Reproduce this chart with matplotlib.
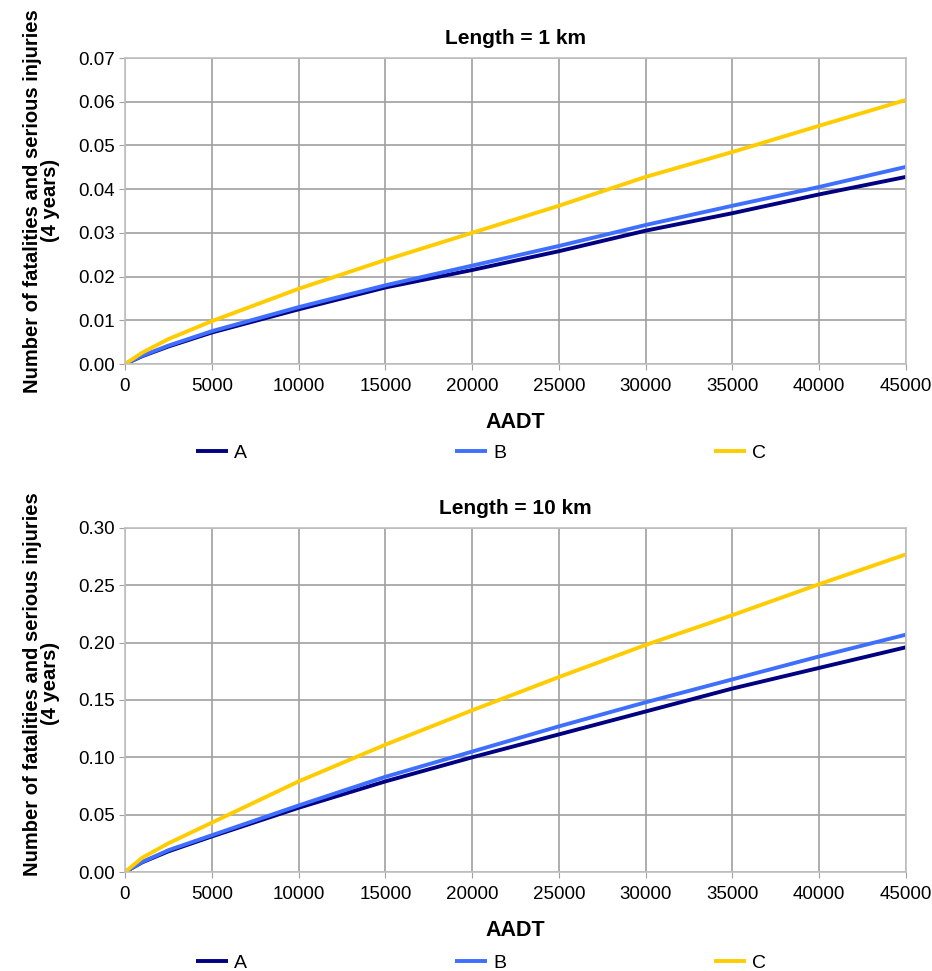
import matplotlib
matplotlib.use('Agg')
import matplotlib.pyplot as plt

plt.rcParams['font.family'] = ['Liberation Sans', 'DejaVu Sans']

aadt = [0, 1000, 2500, 5000, 10000, 15000, 20000, 25000, 30000, 35000, 40000, 45000]

# Length = 1 km
a_1km = [0, 0.0018, 0.0040, 0.0072, 0.0125, 0.0175, 0.0215, 0.0258, 0.0305, 0.0345, 0.0388, 0.0428]
b_1km = [0, 0.0019, 0.0042, 0.0075, 0.0130, 0.0180, 0.0225, 0.0270, 0.0318, 0.0362, 0.0405, 0.0451]
c_1km = [0, 0.0026, 0.0057, 0.0098, 0.0172, 0.0238, 0.0300, 0.0362, 0.0428, 0.0485, 0.0545, 0.0604]

# Length = 10 km
a_10km = [0, 0.0085, 0.018, 0.031, 0.056, 0.079, 0.100, 0.120, 0.140, 0.160, 0.178, 0.196]
b_10km = [0, 0.0088, 0.019, 0.032, 0.058, 0.083, 0.105, 0.127, 0.148, 0.168, 0.188, 0.207]
c_10km = [0, 0.0125, 0.025, 0.043, 0.079, 0.111, 0.141, 0.170, 0.198, 0.224, 0.251, 0.277]

series_names = ['A', 'B', 'C']
colors = ['#000080', '#3f6fff', '#ffcc00']

fig = plt.figure(figsize=(9.32, 9.71), dpi=100)
ax1 = fig.add_axes([125/932, 1 - 364/971, 781/932, 306/971])
ax2 = fig.add_axes([125/932, 1 - 872/971, 781/932, 344/971])

panels = [
    (ax1, [a_1km, b_1km, c_1km], 'Length = 1 km', 0.07, 0.01, 453, 0.533),
    (ax2, [a_10km, b_10km, c_10km], 'Length = 10 km', 0.30, 0.05, 963, 0.547),
]

for ax, data, title, ymax, ystep, leg_y, lab_y in panels:
    for vals, name, col in zip(data, series_names, colors):
        ax.plot(aadt, vals, color=col, lw=2.8, label=name, solid_capstyle='butt')
    ax.set_xlim(0, 45000)
    ax.set_ylim(0, ymax)
    ax.set_xticks(range(0, 45001, 5000))
    n = int(round(ymax / ystep))
    ax.set_yticks([i * ystep for i in range(n + 1)])
    ax.yaxis.set_major_formatter(plt.FormatStrFormatter('%.2f'))
    ax.grid(True, color='#a0a0a0', lw=1.2)
    ax.set_axisbelow(True)
    for s in ax.spines.values():
        s.set_color('#c0c0c0')
        s.set_linewidth(1.2)
    ax.tick_params(labelsize=13.5, length=4, color='#a0a0a0')
    ax.tick_params(axis='x', pad=6)
    ax.tick_params(axis='y', pad=3)
    ax.set_title(title, fontsize=15, fontweight='bold', pad=10)
    ax.set_xlabel('AADT', fontsize=15.5, fontweight='bold', labelpad=12)
    ax.set_ylabel('Number of fatalities and serious injuries\n(4 years)',
                  fontsize=14.5, fontweight='bold', linespacing=0.95)
    ax.yaxis.set_label_coords(-0.083, lab_y)
    ax.legend(loc='center', bbox_to_anchor=(481/932, 1 - leg_y/971),
              bbox_transform=fig.transFigure, ncol=3, frameon=False,
              fontsize=14, handlelength=1.65, handletextpad=0.3,
              columnspacing=10.7)

fig.savefig('out.png', dpi=100)
